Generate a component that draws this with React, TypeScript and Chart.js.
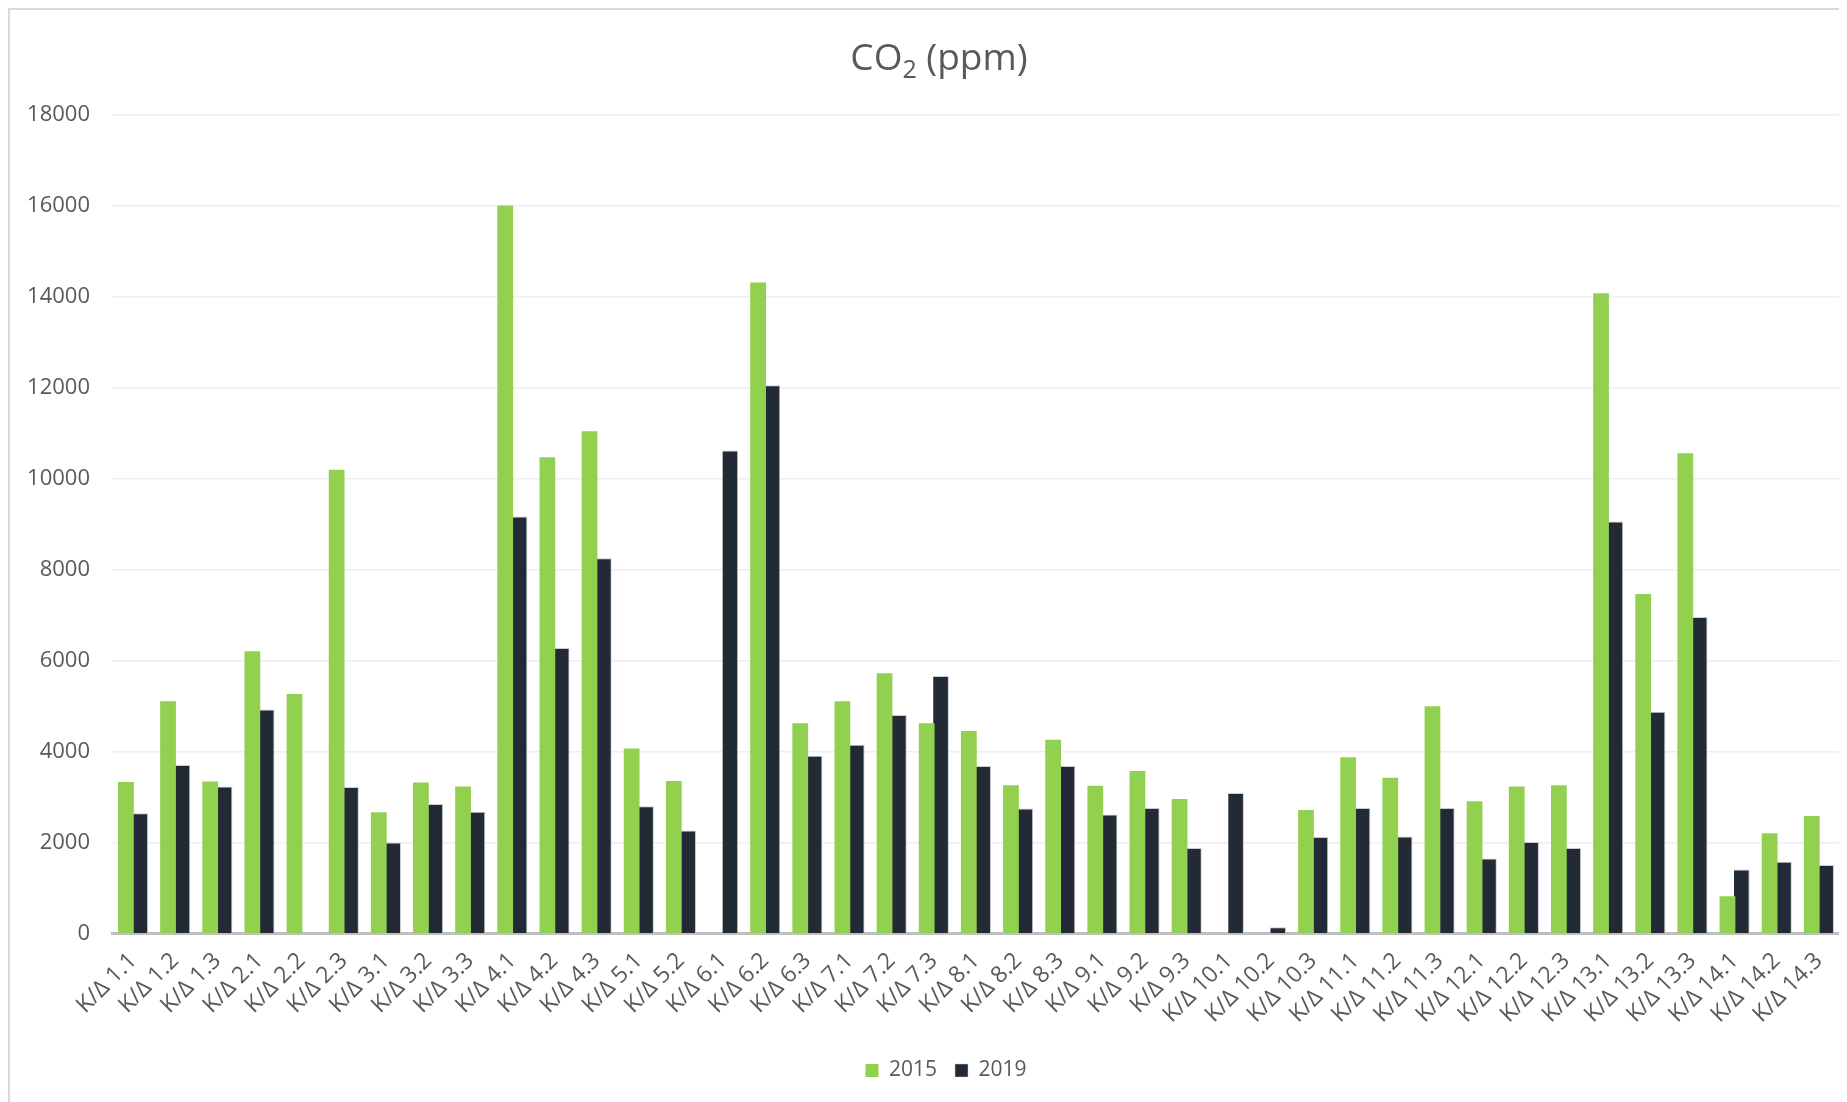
import React, { useEffect, useRef } from "react";
import { Chart, registerables } from "chart.js";

Chart.register(...registerables);

const categories = [
  "K/Δ 1.1", "K/Δ 1.2", "K/Δ 1.3",
  "K/Δ 2.1", "K/Δ 2.2", "K/Δ 2.3",
  "K/Δ 3.1", "K/Δ 3.2", "K/Δ 3.3",
  "K/Δ 4.1", "K/Δ 4.2", "K/Δ 4.3",
  "K/Δ 5.1", "K/Δ 5.2",
  "K/Δ 6.1", "K/Δ 6.2", "K/Δ 6.3",
  "K/Δ 7.1", "K/Δ 7.2", "K/Δ 7.3",
  "K/Δ 8.1", "K/Δ 8.2", "K/Δ 8.3",
  "K/Δ 9.1", "K/Δ 9.2", "K/Δ 9.3",
  "K/Δ 10.1", "K/Δ 10.2", "K/Δ 10.3",
  "K/Δ 11.1", "K/Δ 11.2", "K/Δ 11.3",
  "K/Δ 12.1", "K/Δ 12.2", "K/Δ 12.3",
  "K/Δ 13.1", "K/Δ 13.2", "K/Δ 13.3",
  "K/Δ 14.1", "K/Δ 14.2", "K/Δ 14.3",
];

const values2015 = [
  3335, 5112, 3347, 6211, 5269, 10199, 2671, 3323, 3239, 16012, 10477, 11045, 4073, 3360,
  null, 14320, 4628, 5112, 5728, 4628, 4459, 3263, 4266, 3251, 3577, 2961,
  null, null, 2719, 3879, 3432, 5003, 2912, 3239, 3263, 14079, 7468, 10562, 822, 2211, 2586,
];

const values2019 = [
  2647, 3710, 3239, 4930, null, 3227, 2006, 2852, 2683, 9172, 6284, 8254, 2804, 2272,
  10622, 12060, 3915, 4157, 4810, 5668, 3686, 2755, 3686, 2622, 2767, 1885,
  3094, 145, 2127, 2767, 2139, 2767, 1656, 2018, 1885, 9063, 4882, 6961, 1414, 1583, 1511,
];

const seriesLabels = ["2015", "2019"];
const titleMain = "CO";
const titleSub = "2";
const titleRest = " (ppm)";

const FONT = "'Open Sans', 'Noto Sans', sans-serif";
const TEXT = "#595959";

const titlePlugin = {
  id: "subTitle",
  afterLayout(chart: any) {
    const lg = chart.legend;
    if (lg) {
      lg.left += 21;
      lg.right += 21;
    }
  },
  afterDraw(chart: any) {
    const ctx = chart.ctx;
    ctx.save();
    ctx.fillStyle = TEXT;
    ctx.textBaseline = "alphabetic";
    const big = `37px ${FONT}`;
    const small = `25px ${FONT}`;
    ctx.font = big;
    const w1 = ctx.measureText(titleMain).width;
    const w3 = ctx.measureText(titleRest).width;
    ctx.font = small;
    const w2 = ctx.measureText(titleSub).width;
    const total = w1 + w2 + w3;
    let x = chart.width / 2 - total / 2;
    const y = 60;
    ctx.textAlign = "left";
    ctx.font = big;
    ctx.fillText(titleMain, x, y);
    x += w1;
    ctx.font = small;
    ctx.fillText(titleSub, x, y + 8);
    x += w2;
    ctx.font = big;
    ctx.fillText(titleRest, x, y);
    ctx.restore();
  },
};

export default function App() {
  const ref = useRef<HTMLCanvasElement | null>(null);

  useEffect(() => {
    if (!ref.current) return;
    const chart = new Chart(ref.current, {
      type: "bar",
      data: {
        labels: categories,
        datasets: [
          {
            label: seriesLabels[0],
            data: values2015,
            backgroundColor: "#92D050",
            borderWidth: 0,
            categoryPercentage: 0.68,
            barPercentage: 1.1,
          },
          {
            label: seriesLabels[1],
            data: values2019,
            backgroundColor: "#222A35",
            borderColor: "#C9CCD0",
            borderWidth: { top: 1, left: 0, right: 1, bottom: 0 },
            categoryPercentage: 0.68,
            barPercentage: 1.1,
          },
        ],
      },
      options: {
        responsive: false,
        animation: false,
        layout: { padding: { top: 105, right: 28, bottom: 11, left: 0 } },
        plugins: {
          title: { display: false },
          tooltip: { enabled: false },
          legend: {
            position: "bottom",
            labels: {
              boxWidth: 13,
              boxHeight: 13,
              padding: 18,
              color: TEXT,
              font: { family: FONT, size: 21 },
            },
          },
        },
        scales: {
          x: {
            grid: { display: false, drawTicks: false },
            border: { display: true, color: "#BFBFBF", width: 3 },
            ticks: {
              autoSkip: false,
              maxRotation: 45,
              minRotation: 45,
              padding: 13.5,
              color: TEXT,
              font: { family: FONT, size: 23 },
            },
          },
          y: {
            min: 0,
            max: 18000,
            afterFit: (scale: any) => {
              scale.width = 102;
            },
            grid: { color: "#EEEEEE", lineWidth: 1.5, drawTicks: false },
            border: { display: false },
            ticks: {
              stepSize: 2000,
              padding: 22,
              color: TEXT,
              font: { family: FONT, size: 22 },
              callback: (v: any) => String(v),
            },
          },
        },
      },
      plugins: [titlePlugin],
    });
    return () => chart.destroy();
  }, []);

  return (
    <div
      style={{
        width: 1839,
        height: 1094,
        boxSizing: "border-box",
        borderLeft: "2px solid #D9D9D9",
        borderTop: "2px solid #D9D9D9",
        overflow: "hidden",
        position: "relative",
        background: "#FFFFFF",
      }}
    >
      <canvas ref={ref} width={1858} height={1092} style={{ display: "block" }} />
    </div>
  );
}
